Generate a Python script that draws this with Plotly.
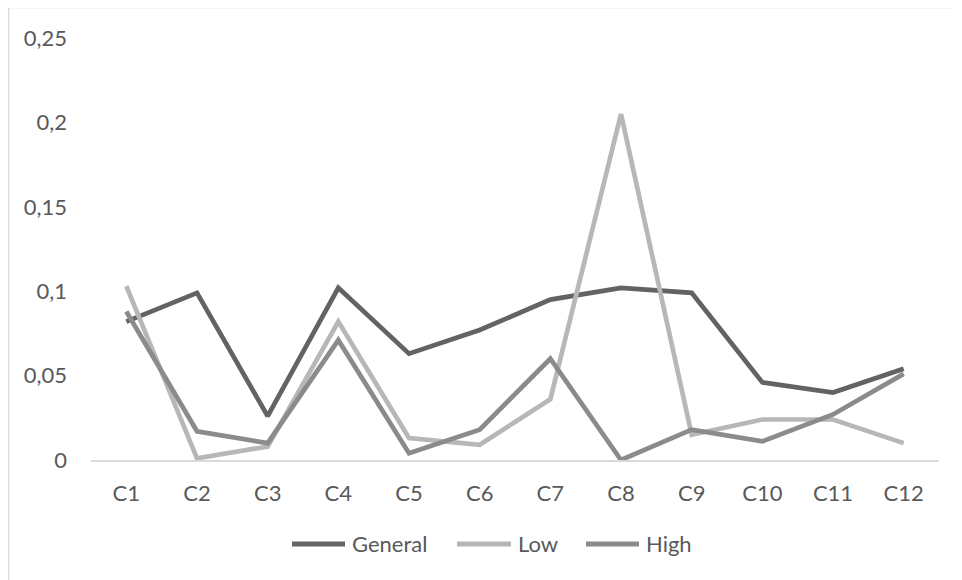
import plotly.graph_objects as go

categories = ["C1", "C2", "C3", "C4", "C5", "C6", "C7", "C8", "C9", "C10", "C11", "C12"]
general = [0.082, 0.099, 0.026, 0.102, 0.063, 0.077, 0.095, 0.102, 0.099, 0.046, 0.040, 0.054]
low = [0.103, 0.001, 0.008, 0.082, 0.013, 0.009, 0.036, 0.205, 0.015, 0.024, 0.024, 0.010]
high = [0.088, 0.017, 0.010, 0.071, 0.004, 0.018, 0.060, 0.000, 0.018, 0.011, 0.027, 0.051]
y_ticks = [0, 0.05, 0.1, 0.15, 0.2, 0.25]
y_ticktext = ["0", "0,05", "0,1", "0,15", "0,2", "0,25"]

series = [("General", general, "#636363"), ("Low", low, "#b7b7b7"), ("High", high, "#8b8b8b")]

# page body has an 8px margin; work in window pixel coordinates and subtract it
OFF = 8
W, H = 962 - OFF, 580 - OFF
PL, PR, PT, PB = 91, 939, 37.5, 460  # plot area in window pixels
L, T = PL - OFF, PT - OFF
pw, ph = PR - PL, PB - PT
R = W - L - pw
B = H - T - ph

def px_x(x):
    return (x - PL) / pw

def px_y(y):
    return (PB - y) / ph

fig = go.Figure()
for name, vals, col in series:
    fig.add_trace(go.Scatter(x=categories, y=vals, name=name, mode="lines",
                             line=dict(color=col, width=4.7), showlegend=False))

font = dict(family="Lato, 'Open Sans', sans-serif", size=22, color="#595959")

shapes = [
    dict(type="rect", xref="paper", yref="paper", x0=px_x(8.5), x1=px_x(975),
         y0=px_y(595), y1=px_y(7), line=dict(color="#d9d9d9", width=1.5), layer="below"),
]
annotations = []
legend_pos = [(292, 345, 350), (457, 511, 516), (586, 639, 644)]
leg_y = 544
for (name, vals, col), (x0, x1, tx) in zip(series, legend_pos):
    shapes.append(dict(type="line", xref="paper", yref="paper", x0=px_x(x0), x1=px_x(x1),
                       y0=px_y(leg_y), y1=px_y(leg_y), line=dict(color=col, width=5)))
    annotations.append(dict(xref="paper", yref="paper", x=px_x(tx), y=px_y(leg_y),
                            text=name, showarrow=False, xanchor="left", yanchor="middle",
                            font=font))

fig.update_layout(
    width=W, height=H,
    margin=dict(l=L, r=R, t=T, b=B),
    paper_bgcolor="white", plot_bgcolor="white",
    font=font,
    shapes=shapes, annotations=annotations,
    xaxis=dict(type="category", showgrid=False, showline=True, linecolor="#d9d9d9",
               linewidth=1.5, ticks="", ticklabelstandoff=13, tickfont=font,
               range=[-0.5, 11.5], zeroline=False),
    yaxis=dict(range=[0, 0.25], tickvals=y_ticks, ticktext=y_ticktext, showgrid=False,
               zeroline=False, showline=False, ticks="", ticklabelstandoff=23, tickfont=font),
)

fig.write_html("out.html")
